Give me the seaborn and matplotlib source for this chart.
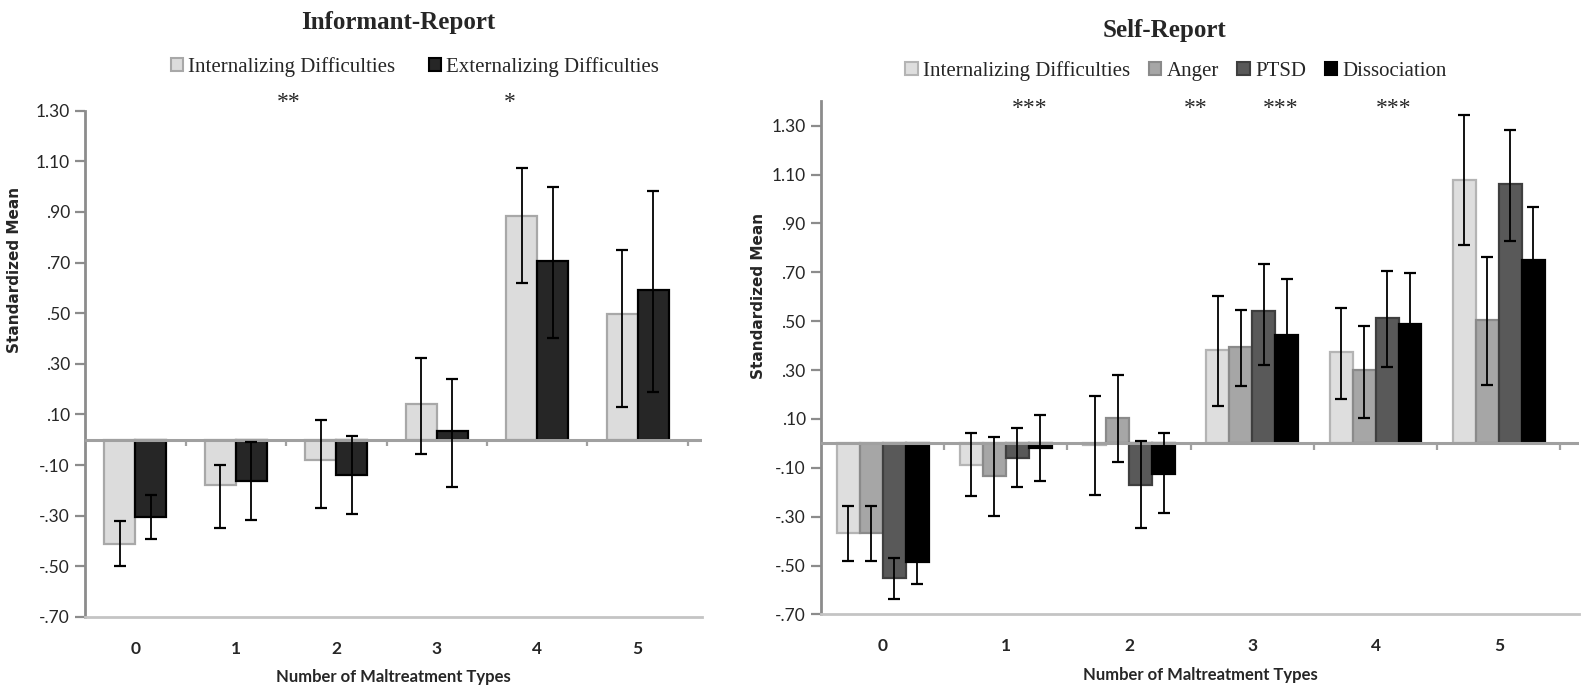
import numpy as np
import pandas as pd
import seaborn as sns
import matplotlib.pyplot as plt
from matplotlib.patches import Patch

sns.set_style("white")

# categories and axis text
categories = ["0", "1", "2", "3", "4", "5"]
ytick_values = [1.30, 1.10, 0.90, 0.70, 0.50, 0.30, 0.10, -0.10, -0.30, -0.50, -0.70]
ytick_labels = ["1.30", "1.10", ".90", ".70", ".50", ".30", ".10", "-.10", "-.30", "-.50", "-.70"]

# Informant-Report (mean, lower / upper end of error bar)
inf_names = ["Internalizing Difficulties", "Externalizing Difficulties"]
inf_internal = [-0.41, -0.18, -0.08, 0.14, 0.885, 0.495]
inf_internal_lo = [-0.50, -0.35, -0.27, -0.055, 0.62, 0.13]
inf_internal_hi = [-0.32, -0.10, 0.08, 0.325, 1.075, 0.75]
inf_external = [-0.305, -0.163, -0.139, 0.035, 0.707, 0.593]
inf_external_lo = [-0.39, -0.317, -0.293, -0.186, 0.403, 0.187]
inf_external_hi = [-0.22, -0.009, 0.016, 0.239, 0.998, 0.984]
inf_stars = ["**", "*"]
inf_star_x = [1.53, 3.73]

# Self-Report
self_names = ["Internalizing Difficulties", "Anger", "PTSD", "Dissociation"]
self_internal = [-0.368, -0.088, -0.008, 0.381, 0.374, 1.08]
self_internal_lo = [-0.48, -0.217, -0.21, 0.153, 0.18, 0.812]
self_internal_hi = [-0.255, 0.042, 0.193, 0.605, 0.553, 1.345]
self_anger = [-0.368, -0.132, 0.105, 0.394, 0.301, 0.507]
self_anger_lo = [-0.48, -0.298, -0.078, 0.235, 0.103, 0.241]
self_anger_hi = [-0.255, 0.028, 0.279, 0.544, 0.481, 0.761]
self_ptsd = [-0.552, -0.058, -0.169, 0.540, 0.514, 1.062]
self_ptsd_lo = [-0.636, -0.180, -0.348, 0.323, 0.311, 0.829]
self_ptsd_hi = [-0.47, 0.064, 0.010, 0.735, 0.704, 1.281]
self_dissoc = [-0.484, -0.020, -0.127, 0.445, 0.488, 0.752]
self_dissoc_lo = [-0.574, -0.154, -0.286, 0.215, 0.28, 0.536]
self_dissoc_hi = [-0.394, 0.116, 0.042, 0.673, 0.697, 0.968]
self_stars = ["***", "**", "***", "***"]
self_star_x = [1.19, 2.54, 3.23, 4.15]

inf_colors = ["#dcdcdc", "#262626"]
inf_edges = ["#a8a8a8", "#000000"]
self_colors = ["#dedede", "#a6a6a6", "#595959", "#000000"]
self_edges = ["#b4b4b4", "#8a8a8a", "#3f3f3f", "#000000"]

tick_font = "Lato"
serif = "Liberation Serif"


def make_df(names, means):
    rows = []
    for name, vals in zip(names, means):
        for c, v in zip(categories, vals):
            rows.append({"types": c, "measure": name, "mean": v})
    return pd.DataFrame(rows)


def draw_panel(ax, names, means, los, his, colors, edges, width, ylim, xmax):
    df = make_df(names, means)
    sns.barplot(data=df, x="types", y="mean", hue="measure", hue_order=names,
                palette=colors, width=width, saturation=1, errorbar=None,
                legend=False, ax=ax, zorder=2)
    for cont, ec, m, lo, hi in zip(ax.containers, edges, means, los, his):
        xs = []
        for bar in cont:
            bar.set_edgecolor(ec)
            bar.set_linewidth(1.6)
            xs.append(bar.get_x() + bar.get_width() / 2)
        m = np.array(m)
        yerr = [m - np.array(lo), np.array(hi) - m]
        ax.errorbar(xs, m, yerr=yerr, fmt="none", ecolor="black",
                    elinewidth=1.3, capsize=4, capthick=1.6, zorder=4)

    ax.set_xlim(-0.5, xmax)
    ax.set_ylim(*ylim)
    ax.set_yticks(ytick_values)
    ax.set_yticklabels(ytick_labels, fontfamily=tick_font, fontsize=12.5)
    ax.set_xticks(range(len(categories)))
    ax.set_xticklabels(categories, fontfamily=tick_font, fontsize=12.5,
                       fontweight="bold")
    ax.tick_params(axis="x", length=0, pad=17)
    ax.tick_params(axis="y", length=7, width=1.6, color="#8c8c8c",
                   direction="out", pad=4, left=True)

    # category axis at zero with boundary ticks
    ax.axhline(0, color="#a0a0a0", lw=2.2, zorder=3)
    bounds = np.arange(len(categories)) + 0.5
    tick_len = (ylim[1] - ylim[0]) * 0.013
    ax.vlines(bounds, -tick_len, 0, color="#a0a0a0", lw=1.6, zorder=3)

    for s in ["top", "right"]:
        ax.spines[s].set_visible(False)
    ax.spines["left"].set_color("#8c8c8c")
    ax.spines["left"].set_linewidth(2)
    ax.spines["bottom"].set_color("#c4c4c4")
    ax.spines["bottom"].set_linewidth(2)

    ax.set_xlabel("Number of Maltreatment Types", fontfamily=tick_font,
                  fontsize=12, fontweight="bold", labelpad=9)
    ax.set_ylabel("Standardized Mean", fontfamily="DejaVu Sans",
                  fontsize=11, fontweight="bold")


fig = plt.figure(figsize=(15.84, 6.92), dpi=100)

ax1 = fig.add_axes([0.0537, 0.1084, 0.3895, 0.7316])
draw_panel(ax1, inf_names,
           [inf_internal, inf_external],
           [inf_internal_lo, inf_external_lo],
           [inf_internal_hi, inf_external_hi],
           inf_colors, inf_edges, 0.62, (-0.70, 1.30), 5.64)
ax1.yaxis.set_label_coords(-0.103, 0.685)

ax2 = fig.add_axes([0.5183, 0.112, 0.4785, 0.7416])
draw_panel(ax2, self_names,
           [self_internal, self_anger, self_ptsd, self_dissoc],
           [self_internal_lo, self_anger_lo, self_ptsd_lo, self_dissoc_lo],
           [self_internal_hi, self_anger_hi, self_ptsd_hi, self_dissoc_hi],
           self_colors, self_edges, 0.745, (-0.70, 1.40), 5.65)
ax2.yaxis.set_label_coords(-0.072, 0.62)

# titles
fig.text(398 / 1584, 1 - 22 / 692, "Informant-Report", ha="center", va="center",
         fontfamily=serif, fontsize=18, fontweight="bold")
fig.text(1165 / 1584, 1 - 31 / 692, "Self-Report", ha="center", va="center",
         fontfamily=serif, fontsize=18, fontweight="bold")

# legends
h1 = [Patch(facecolor=c, edgecolor=e, lw=1.5) for c, e in zip(inf_colors, inf_edges)]
fig.legend(h1, inf_names, loc="center", bbox_to_anchor=(415 / 1584, 1 - 67 / 692),
           ncol=2, frameon=False, prop={"family": serif, "size": 15},
           handlelength=0.6, handleheight=0.6, handletextpad=0.25,
           columnspacing=1.6, borderaxespad=0)
h2 = [Patch(facecolor=c, edgecolor=e, lw=1.5) for c, e in zip(self_colors, self_edges)]
fig.legend(h2, self_names, loc="center", bbox_to_anchor=(1176 / 1584, 1 - 71 / 692),
           ncol=4, frameon=False, prop={"family": serif, "size": 15},
           handlelength=0.6, handleheight=0.6, handletextpad=0.25,
           columnspacing=0.9, borderaxespad=0)

# significance markers
for s, x in zip(inf_stars, inf_star_x):
    ax1.text(x, 0.995, s, transform=ax1.get_xaxis_transform(), ha="center",
             va="bottom", fontfamily=serif, fontsize=17)

for s, x in zip(self_stars, self_star_x):
    ax2.text(x, 0.965, s, transform=ax2.get_xaxis_transform(), ha="center",
             va="bottom", fontfamily=serif, fontsize=17)

plt.savefig("out.png", dpi=100)
